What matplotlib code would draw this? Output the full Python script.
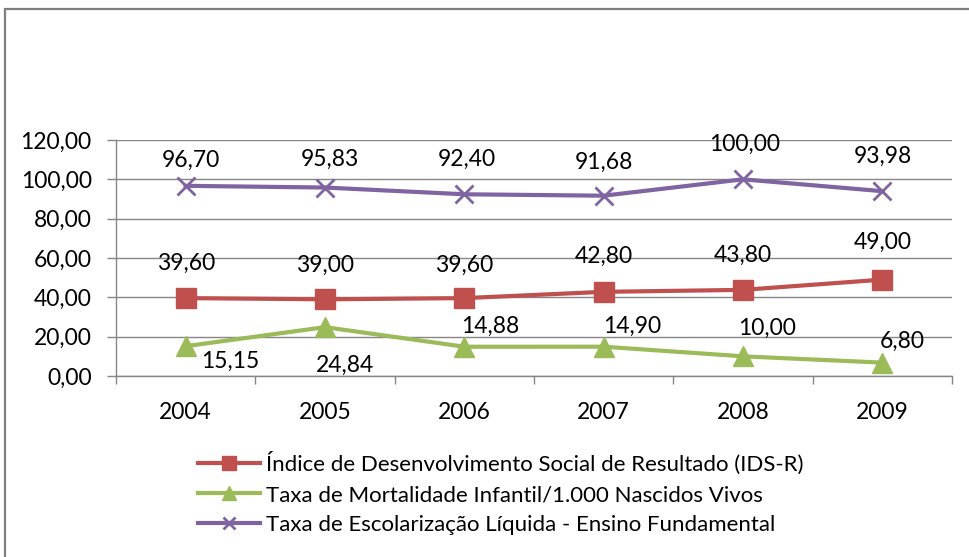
import matplotlib
matplotlib.use("Agg")
import matplotlib.pyplot as plt
from matplotlib.patches import Rectangle

# data
YEARS = ['2004', '2005', '2006', '2007', '2008', '2009']
IDS_R = [39.60, 39.00, 39.60, 42.80, 43.80, 49.00]
MORTALIDADE = [15.15, 24.84, 14.88, 14.90, 10.00, 6.80]
ESCOLARIZACAO = [96.70, 95.83, 92.40, 91.68, 100.00, 93.98]
YTICKS = [0, 20, 40, 60, 80, 100, 120]

LABELS = [
    'Índice de Desenvolvimento Social de Resultado (IDS-R)',
    'Taxa de Mortalidade Infantil/1.000 Nascidos Vivos',
    'Taxa de Escolarização Líquida - Ensino Fundamental',
]

# label offsets in pixels (dx, dy) - Excel-like placement
OFF_RED = [(0, 35), (0, 34), (0, 33), (0, 35), (0, 35), (0, 37)]
OFF_GREEN = [(45, -15), (20, -38), (26, 20), (29, 20), (24, 28), (20, 21)]
OFF_PURPLE = [(5, 25), (5, 28), (2, 35), (0, 33), (2, 35), (1, 35)]

RED = '#C0504D'
GREEN = '#9BBB59'
PURPLE = '#8064A2'
GRID = '#868686'

plt.rcParams['font.family'] = ['Lato', 'DejaVu Sans']
FS = 16.5

def fmt(v):
    return ('%.2f' % v).replace('.', ',')

fig = plt.figure(figsize=(9.7, 5.57), dpi=100)
fig.patch.set_facecolor('white')
ax = fig.add_axes([116 / 970, 1 - 376 / 557, (952 - 116) / 970, (376 - 140) / 557])

xs = list(range(len(YEARS)))
l1, = ax.plot(xs, IDS_R, color=RED, lw=3, marker='s', markersize=15, zorder=3)
l2, = ax.plot(xs, MORTALIDADE, color=GREEN, lw=3, marker='^', markersize=15, zorder=3)
l3, = ax.plot(xs, ESCOLARIZACAO, color=PURPLE, lw=3, marker='x', markersize=13,
              markeredgewidth=2, zorder=3)

for vals, offs in ((IDS_R, OFF_RED), (MORTALIDADE, OFF_GREEN), (ESCOLARIZACAO, OFF_PURPLE)):
    for x, v, (dx, dy) in zip(xs, vals, offs):
        ax.annotate(fmt(v), (x, v), xytext=(dx * 0.72, dy * 0.72), textcoords='offset points',
                    ha='center', va='center', fontsize=FS, color='black', zorder=4)

ax.set_xlim(-0.5, len(YEARS) - 0.5)
ax.set_ylim(0, 120)
ax.set_yticks(YTICKS)
ax.set_yticklabels([fmt(t) for t in YTICKS], fontsize=FS)
ax.set_xticks(xs)
ax.set_xticklabels(YEARS, fontsize=FS)
ax.set_xticks([i - 0.5 for i in range(len(YEARS) + 1)], minor=True)
ax.tick_params(axis='x', which='major', length=0, pad=19)
ax.tick_params(axis='x', which='minor', length=6, color=GRID, width=1)
ax.tick_params(axis='y', length=6.5, color=GRID, width=1, pad=11)
ax.grid(axis='y', color=GRID, lw=1)
ax.set_axisbelow(True)
for s in ('top', 'right'):
    ax.spines[s].set_visible(False)
for s in ('left', 'bottom'):
    ax.spines[s].set_color(GRID)
    ax.spines[s].set_linewidth(1)

fig.legend([l1, l2, l3], LABELS, loc='upper left', bbox_to_anchor=(198 / 970, 1 - 452 / 557),
           frameon=False, fontsize=16, handlelength=2.8, handletextpad=0.25,
           labelspacing=0.45, markerscale=0.65, borderaxespad=0, borderpad=0)

# outer chart border (right and bottom edges are cut off in the reference)
fig.add_artist(Rectangle((5.5 / 970, -0.1), 1.2, 1 - 9 / 557 + 0.1, transform=fig.transFigure,
                         fill=False, edgecolor='#7F7F7F', lw=1.6))

fig.savefig('out.png', dpi=100, facecolor='white')
